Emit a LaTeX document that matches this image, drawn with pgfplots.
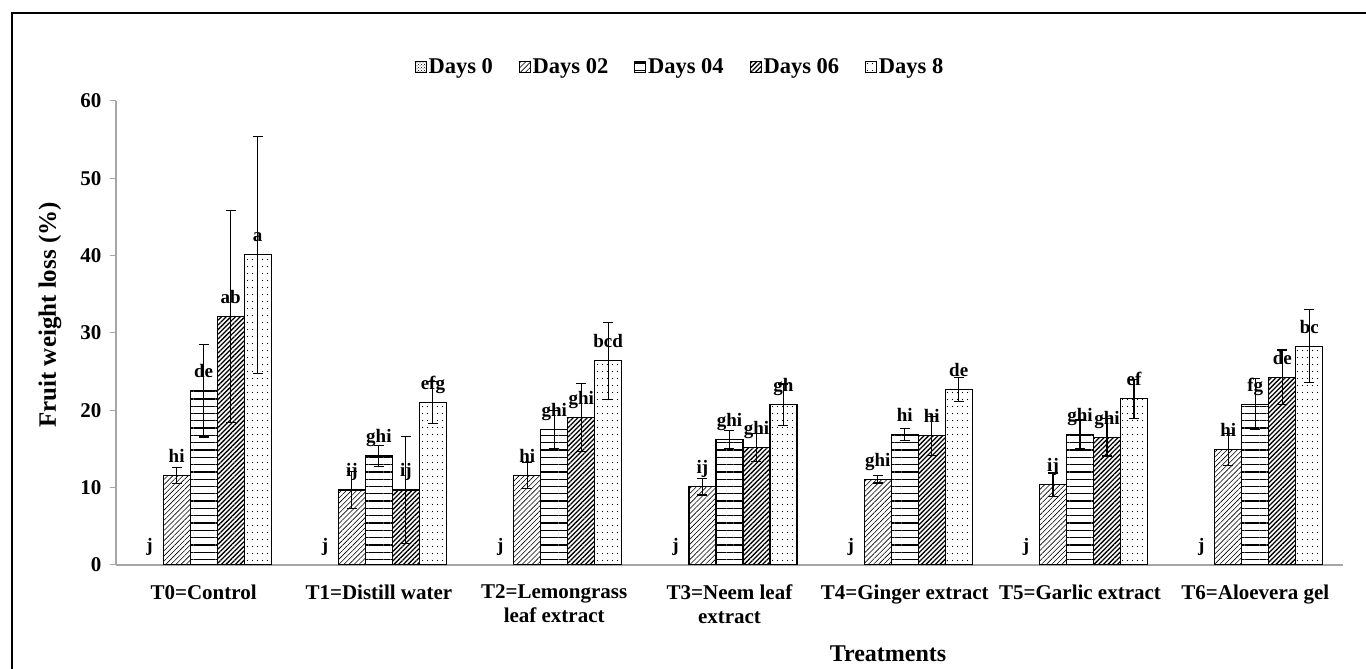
\documentclass[border=0pt]{standalone}
\usepackage{fontspec}
\setmainfont{Liberation Serif}
\usepackage{pgfplots}
\pgfplotsset{compat=1.18}
\usepackage{pgfplotstable}
\usetikzlibrary{patterns,patterns.meta}
\newcommand\fs[1]{\fontsize{#1}{#1}\selectfont\bfseries}

\tikzdeclarepattern{
  name=sparsedots,
  type=uncolored,
  bottom left={(-0.1pt,-0.1pt)},
  top right={(5.1pt,7.1pt)},
  tile size={(5pt,7pt)},
  code={\fill (2.5pt,3.5pt) circle (0.65pt);}
}
\tikzset{
  pat00/.style={pattern=crosshatch dots},
  pat02/.style={pattern={Lines[angle=45,distance=3.6pt,line width=0.6pt]}},
  pat04/.style={pattern={Lines[angle=0,distance=7.3pt,line width=1.3pt]}},
  pat06/.style={pattern={Lines[angle=45,distance=3.3pt,line width=1.3pt]}},
  pat08/.style={pattern=sparsedots},
}

\pgfplotstableread{
x y e lab
0 0 0 j
1 0 0 j
2 0 0 j
3 0 0 j
4 0 0 j
5 0 0 j
6 0 0 j
}\dayA
\pgfplotstableread{
x y e lab
0 11.6 1.05 hi
1 9.7 2.4 ij
2 11.6 1.7 hi
3 10.1 1.05 ij
4 11.1 0.5 ghi
5 10.4 1.5 ij
6 14.95 2.1 hi
}\dayB
\pgfplotstableread{
x y e lab
0 22.55 6.0 de
1 14.1 1.4 ghi
2 17.55 2.45 ghi
3 16.2 1.15 ghi
4 16.85 0.8 hi
5 16.9 1.85 ghi
6 20.8 3.3 fg
}\dayC
\pgfplotstableread{
x y e lab
0 32.1 13.7 ab
1 9.7 6.9 ij
2 19.1 4.4 ghi
3 15.2 1.8 ghi
4 16.7 2.5 hi
5 16.5 2.4 ghi
6 24.3 3.5 de
}\dayD
\pgfplotstableread{
x y e lab
0 40.1 15.35 a
1 21.0 2.7 efg
2 26.4 4.95 bcd
3 20.7 2.7 gh
4 22.7 1.6 de
5 21.5 2.5 ef
6 28.3 4.7 bc
}\dayE

\begin{document}
\begin{tikzpicture}[x=1pt,y=1pt]
\useasboundingbox (0pt,0pt) rectangle (1366pt,669pt);
\draw[line width=2pt] (12pt,-20pt) -- (12pt,656pt) -- (1400pt,656pt);
\begin{axis}[
  at={(116pt,104pt)}, anchor=south west,
  scale only axis, width=1227pt, height=464pt,
  xmin=-0.5, xmax=6.5, ymin=0, ymax=60,
  ybar=0pt, bar width=0.154,
  axis x line*=bottom, axis y line*=left,
  axis line style={gray!70, line width=1.2pt},
  ytick={0,10,...,60},
  tick align=outside, major tick length=6pt,
  ytick style={gray!70, line width=1pt},
  xtick={0,...,6},
  xtick style={draw=none},
  xticklabels={{T0=Control},{T1=Distill water},{T2=Lemongrass\\leaf extract},{T3=Neem leaf\\extract},{T4=Ginger extract},{T5=Garlic extract},{T6=Aloevera gel}},
  xticklabel style={font=\fontsize{21}{24}\selectfont\bfseries, align=center, text depth=0pt, yshift=-10pt},
  yticklabel style={font=\fs{21}, xshift=-5pt},
  /pgf/number format/assume math mode=true,
  point meta=explicit symbolic,
  nodes near coords,
  every node near coord/.append style={font=\fs{19}, anchor=base, yshift=13pt, inner sep=0pt},
  error bars/y dir=both, error bars/y explicit,
  error bars/error bar style={black, line width=1.1pt},
  error bars/error mark options={black, rotate=90, mark size=5pt, line width=1.1pt},
  legend columns=5,
  legend style={at={(rel axis cs:0.4597,1.073)}, anchor=center, draw=none, fill=none,
    font=\fs{22.5}, inner sep=0pt,
    /tikz/every even column/.append style={column sep=24pt}},
]
\addplot[draw=none, fill=none, bar shift=-0.308,
  legend image code/.code={\draw[pat00, draw=black, line width=0.8pt] (0pt,-5pt) rectangle (11pt,6pt);}]
  table[x=x,y=y,meta=lab] {\dayA};
\addlegendentry{Days 0}
\addplot[draw=black, line width=1.1pt, pat02, bar shift=-0.154,
  legend image code/.code={\draw[pat02, draw=black, line width=0.8pt] (0pt,-5pt) rectangle (11pt,6pt);}]
  table[x=x,y=y,y error=e,meta=lab] {\dayB};
\addlegendentry{Days 02}
\addplot[draw=black, line width=1.1pt, pat04, bar shift=0,
  legend image code/.code={\draw[pat04, draw=black, line width=0.8pt] (0pt,-5pt) rectangle (11pt,6pt);}]
  table[x=x,y=y,y error=e,meta=lab] {\dayC};
\addlegendentry{Days 04}
\addplot[draw=black, line width=1.1pt, pat06, bar shift=0.154,
  legend image code/.code={\draw[pat06, draw=black, line width=0.8pt] (0pt,-5pt) rectangle (11pt,6pt);}]
  table[x=x,y=y,y error=e,meta=lab] {\dayD};
\addlegendentry{Days 06}
\addplot[draw=black, line width=1.1pt, pat08, bar shift=0.308,
  legend image code/.code={\draw[pat08, draw=black, line width=0.8pt] (0pt,-5pt) rectangle (11pt,6pt);}]
  table[x=x,y=y,y error=e,meta=lab] {\dayE};
\addlegendentry{Days 8}
\end{axis}
\node[rotate=90, font=\fs{25}] at (50pt,354pt) {Fruit weight loss (\%)};
\node[anchor=base, font=\fs{24}] at (888pt,7pt) {Treatments};
\end{tikzpicture}
\end{document}
